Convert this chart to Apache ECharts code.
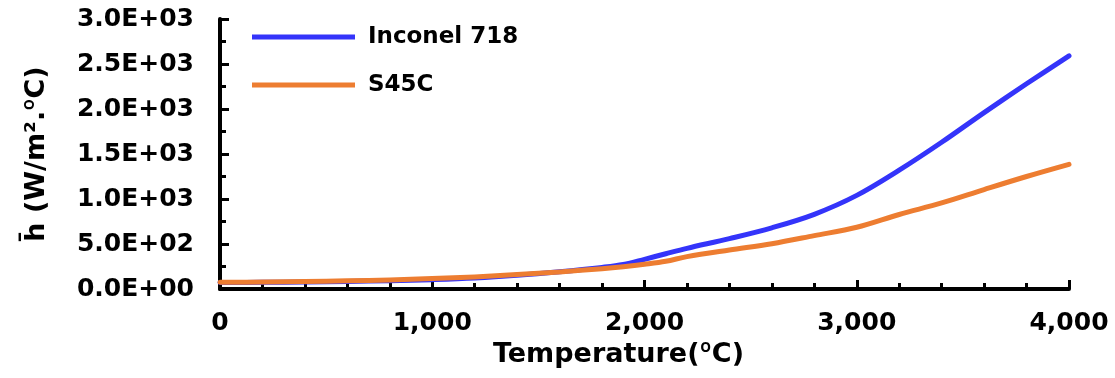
<!DOCTYPE html>
<html>
<head>
<meta charset="utf-8">
<script src="https://cdn.jsdelivr.net/npm/echarts@6/dist/echarts.min.js"></script>
<style>
  html, body { margin: 0; padding: 0; background: #ffffff; }
  #chart { width: 1115px; height: 378px; }
</style>
</head>
<body>
<div id="chart"></div>
<script>
// Temperature samples (ºC) and mean heat transfer coefficient (W/m²·ºC)
const temperatures = [0, 200, 400, 600, 800, 1000, 1200, 1400, 1600, 1800, 1900, 2000, 2100, 2200, 2400, 2600, 2800, 3000, 3200, 3400, 3600, 3800, 4000];
const inconel718 = [72, 74, 78, 84, 92, 104, 122, 152, 192, 240, 272, 330, 392, 452, 560, 680, 830, 1040, 1320, 1630, 1960, 2280, 2590];
const s45c = [74, 78, 84, 91, 100, 116, 134, 160, 190, 226, 248, 275, 308, 360, 434, 503, 593, 686, 828, 956, 1105, 1250, 1385];
const seriesNames = ['Inconel 718', 'S45C'];

const FONT = 'DejaVu Sans';

function pairs(xs, ys) {
  return xs.map((x, i) => [x, ys[i]]);
}
function sci(v) {
  // 2500 -> "2.5E+03"
  const s = Number(v).toExponential(1);
  const m = s.match(/^(-?[\d.]+)e([+-])(\d+)$/);
  const exp = m[3].length < 2 ? '0' + m[3] : m[3];
  return m[1] + 'E' + m[2] + exp;
}
function thousands(v) {
  return String(v).replace(/\B(?=(\d{3})+(?!\d))/g, ',');
}

const chart = echarts.init(document.getElementById('chart'), null, { renderer: 'canvas' });

const axisLine = { show: true, lineStyle: { color: '#000', width: 4 } };
const tickStyle = { color: '#000', width: 3 };
// ordinal sign drawn without the underline bar
const degStyle = { fontFamily: 'Roboto', fontWeight: 'bold', fontSize: 27, color: '#000' };

chart.setOption({
  animation: false,
  backgroundColor: '#ffffff',
  grid: { left: 220, right: 46, top: 19, bottom: 89, containLabel: false },
  legend: {
    orient: 'vertical',
    left: 247,
    top: 20,
    itemWidth: 103,
    itemHeight: 5,
    itemGap: 24,
    icon: 'rect',
    data: seriesNames,
    textStyle: {
      fontFamily: FONT, fontWeight: 'bold', fontSize: 23, color: '#000',
      lineHeight: 24, padding: [0, 0, 0, 8]
    }
  },
  xAxis: {
    type: 'value',
    min: 0, max: 4000, interval: 1000,
    name: 'Temperature({deg|º}C)',
    nameLocation: 'middle',
    nameGap: 52,
    nameTextStyle: {
      fontFamily: FONT, fontWeight: 'bold', fontSize: 27, color: '#000',
      padding: [0, 52, 0, 0],
      rich: { deg: degStyle }
    },
    axisLine: axisLine,
    axisTick: { show: true, inside: true, length: 9, lineStyle: tickStyle },
    minorTick: { show: true, splitNumber: 5, length: 6, lineStyle: tickStyle },
    splitLine: { show: false },
    axisLabel: {
      fontFamily: FONT, fontWeight: 'bold', fontSize: 25, color: '#000',
      margin: 22, formatter: thousands
    }
  },
  yAxis: {
    type: 'value',
    min: 0, max: 3000, interval: 500,
    name: 'h\u0304 (W/m².{deg|º}C)',
    nameLocation: 'middle',
    nameGap: 170,
    nameTextStyle: {
      fontFamily: FONT, fontWeight: 'bold', fontSize: 27, color: '#000',
      rich: { deg: degStyle }
    },
    axisLine: axisLine,
    axisTick: { show: true, inside: true, length: 9, lineStyle: tickStyle },
    minorTick: { show: true, splitNumber: 2, length: 6, lineStyle: tickStyle },
    splitLine: { show: false },
    axisLabel: {
      fontFamily: FONT, fontWeight: 'bold', fontSize: 25, color: '#000',
      margin: 26, formatter: sci
    }
  },
  series: [
    {
      name: seriesNames[0],
      type: 'line',
      data: pairs(temperatures, inconel718),
      smooth: 0.35,
      symbol: 'none',
      color: '#3434FA',
      lineStyle: { width: 5, color: '#3434FA', cap: 'round', join: 'round' },
      z: 3
    },
    {
      name: seriesNames[1],
      type: 'line',
      data: pairs(temperatures, s45c),
      smooth: 0.35,
      symbol: 'none',
      color: '#ED7D31',
      lineStyle: { width: 5, color: '#ED7D31', cap: 'round', join: 'round' },
      z: 4
    }
  ]
});
</script>
</body>
</html>
